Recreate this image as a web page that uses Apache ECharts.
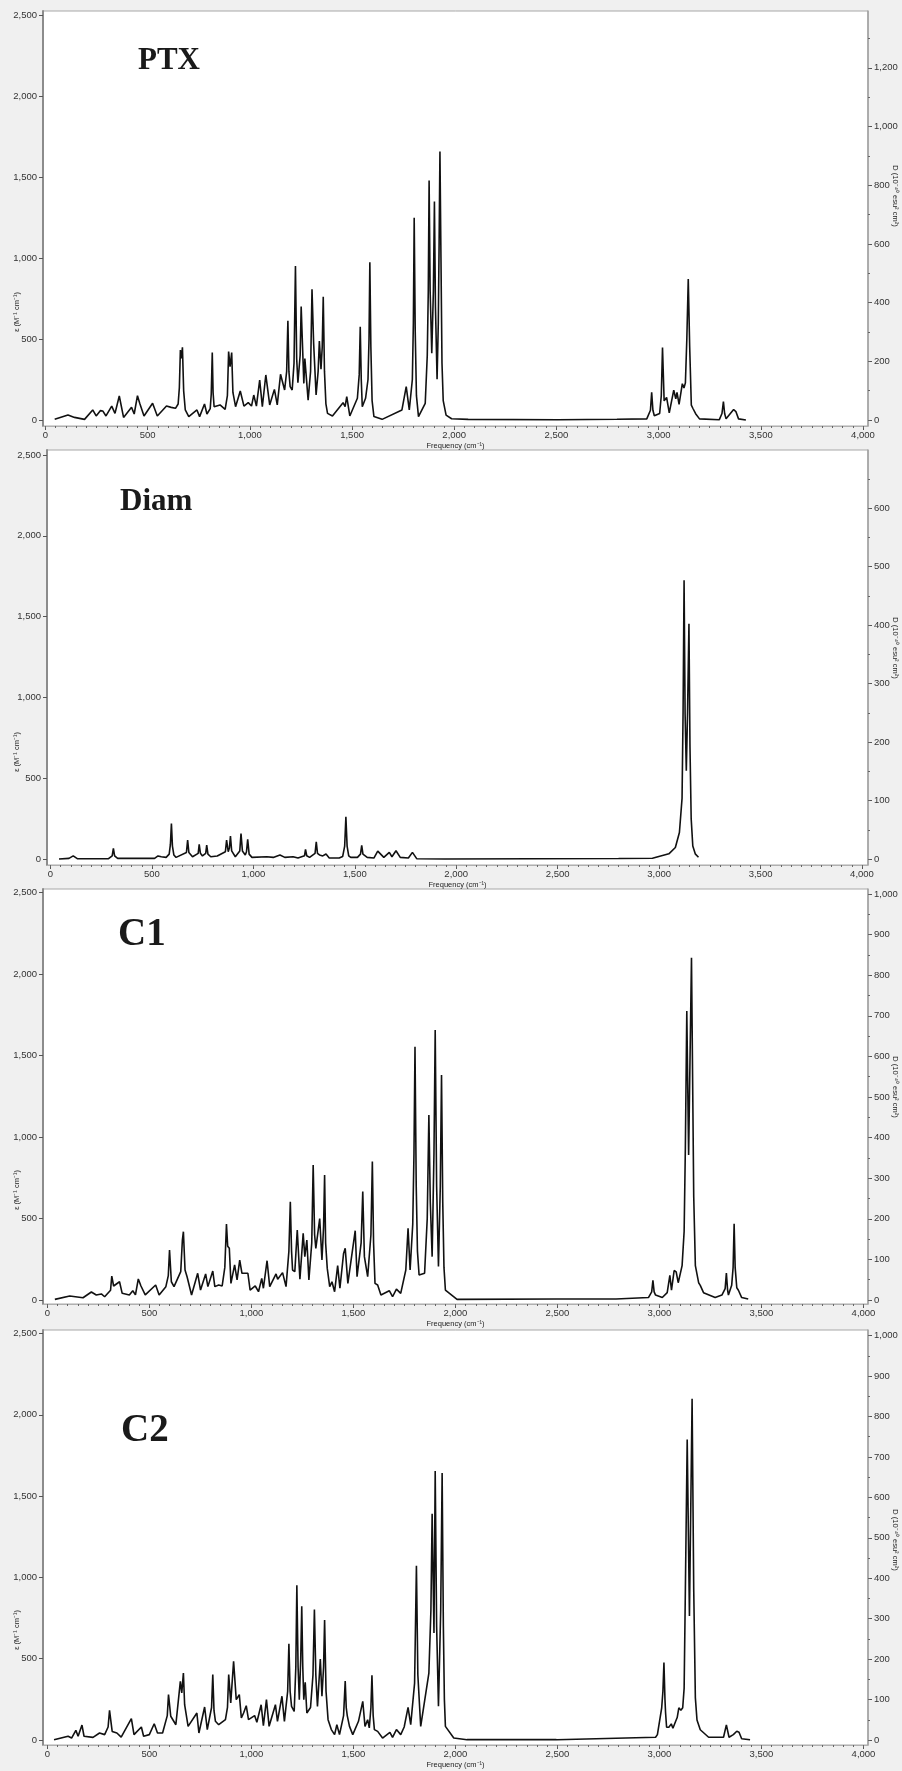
<!DOCTYPE html>
<html>
<head>
<meta charset="utf-8">
<script src="https://cdn.jsdelivr.net/npm/echarts@6/dist/echarts.min.js"></script>
<style>
html,body{margin:0;padding:0;background:#f0f0f0;}
#main{width:902px;height:1771px;}
</style>
</head>
<body>
<div id="main"></div>
<script>
// spectra: [frequency cm-1, epsilon]
var ptxSpectrum = [[45,4],[110,31],[142,16],[191,4],[231,62],[248,25],[269,58],[280,56],[296,25],[324,86],[340,41],[361,148],[382,16],[421,78],[434,37],[450,150],[461,103],[482,25],[524,103],[547,25],[592,86],[615,78],[636,72],[649,99],[655,200],[660,432],[665,380],[670,449],[676,180],[684,62],[701,21],[741,62],[754,21],[778,99],[790,37],[806,70],[811,160],[816,416],[820,170],[825,82],[854,93],[879,66],[890,150],[896,422],[903,329],[911,416],[917,170],[930,82],[953,179],[971,86],[992,107],[1008,86],[1019,154],[1032,86],[1048,247],[1061,82],[1078,278],[1097,93],[1120,189],[1134,93],[1150,282],[1170,185],[1180,300],[1186,613],[1191,300],[1197,206],[1207,185],[1216,350],[1223,951],[1229,380],[1235,230],[1246,400],[1251,700],[1256,515],[1264,226],[1269,379],[1285,123],[1297,300],[1304,807],[1312,473],[1324,154],[1334,300],[1340,488],[1348,313],[1354,450],[1359,761],[1365,300],[1372,100],[1380,41],[1404,25],[1456,107],[1466,82],[1474,144],[1489,25],[1526,134],[1535,280],[1540,576],[1545,250],[1550,82],[1566,134],[1578,250],[1583,500],[1587,973],[1592,450],[1598,120],[1607,21],[1647,4],[1744,62],[1765,206],[1780,62],[1795,250],[1800,600],[1804,1249],[1809,550],[1815,150],[1825,21],[1858,103],[1868,400],[1873,800],[1877,1478],[1882,800],[1890,412],[1898,800],[1903,1348],[1908,700],[1916,251],[1922,600],[1926,1100],[1930,1657],[1935,1000],[1940,350],[1946,120],[1960,30],[1987,8],[2068,4],[2505,2],[2796,5],[2942,7],[2960,60],[2966,171],[2972,60],[2979,26],[3005,40],[3013,150],[3019,448],[3027,118],[3039,139],[3052,44],[3074,184],[3084,131],[3090,171],[3100,97],[3116,224],[3124,197],[3131,229],[3138,500],[3145,870],[3152,450],[3160,92],[3168,71],[3181,39],[3200,7],[3297,2],[3310,40],[3317,113],[3323,40],[3330,7],[3367,65],[3378,52],[3391,7],[3427,0]];
var diamSpectrum = [[42,0],[91,4],[112,19],[132,2],[286,2],[304,20],[310,66],[316,20],[331,4],[513,4],[530,19],[538,10],[546,14],[570,10],[585,30],[591,90],[596,220],[601,80],[608,25],[619,10],[670,40],[676,117],[682,40],[700,14],[728,35],[733,91],[739,35],[749,19],[765,35],[770,86],[776,30],[790,14],[822,19],[862,45],[868,117],[876,45],[882,70],[887,142],[893,50],[911,14],[933,50],[939,158],[946,50],[960,25],[966,45],[972,121],[979,30],[993,10],[1066,14],[1098,10],[1131,25],[1155,10],[1196,14],[1220,6],[1252,20],[1257,60],[1263,20],[1277,10],[1304,35],[1310,107],[1316,35],[1326,25],[1342,19],[1358,31],[1374,6],[1423,6],[1440,15],[1450,80],[1456,261],[1462,80],[1470,20],[1480,10],[1513,10],[1528,30],[1534,84],[1540,30],[1561,10],[1594,6],[1613,49],[1643,10],[1670,41],[1683,14],[1703,51],[1724,10],[1764,6],[1784,41],[1805,2],[1943,0],[2800,3],[2967,5],[3048,32],[3080,71],[3100,164],[3113,375],[3118,900],[3123,1725],[3128,900],[3134,546],[3140,900],[3147,1456],[3152,700],[3158,250],[3166,80],[3178,32],[3194,11]];
var c1Spectrum = [[37,4],[110,25],[175,14],[216,49],[224,57],[240,31],[265,37],[281,20],[310,60],[316,147],[325,86],[354,112],[367,41],[402,31],[419,57],[432,31],[446,129],[459,86],[480,31],[531,92],[548,31],[581,82],[593,150],[599,307],[608,112],[621,82],[654,174],[662,368],[667,419],[675,184],[685,143],[707,31],[737,164],[751,61],[776,160],[787,82],[811,178],[821,82],[840,92],[857,86],[870,200],[878,466],[884,330],[892,317],[900,102],[918,215],[930,123],[943,245],[954,164],[983,164],[994,61],[1019,86],[1035,51],[1051,133],[1059,72],[1077,241],[1090,82],[1121,160],[1129,127],[1153,168],[1170,82],[1184,300],[1191,603],[1197,300],[1202,184],[1213,174],[1225,429],[1238,127],[1254,409],[1262,266],[1272,368],[1282,123],[1296,350],[1303,828],[1310,400],[1316,317],[1335,499],[1346,245],[1354,450],[1359,767],[1364,350],[1372,194],[1384,82],[1395,112],[1408,51],[1423,211],[1434,72],[1452,286],[1460,317],[1473,102],[1509,425],[1518,143],[1538,350],[1546,665],[1554,266],[1562,256],[1570,143],[1586,400],[1593,849],[1599,350],[1606,102],[1619,92],[1635,31],[1676,57],[1692,20],[1711,67],[1732,41],[1757,184],[1768,440],[1778,184],[1791,466],[1797,900],[1802,1554],[1808,700],[1814,300],[1822,153],[1849,164],[1862,500],[1870,1135],[1877,600],[1886,266],[1895,900],[1901,1656],[1908,700],[1917,205],[1926,700],[1932,1380],[1938,600],[1944,200],[1951,61],[2008,4],[2495,6],[2787,6],[2946,15],[2962,50],[2968,121],[2974,50],[2981,30],[3014,15],[3038,45],[3051,151],[3059,60],[3072,181],[3082,172],[3092,106],[3101,97],[3111,211],[3121,422],[3127,935],[3134,1773],[3143,890],[3157,2100],[3168,633],[3176,211],[3192,106],[3200,90],[3216,45],[3273,15],[3306,30],[3322,70],[3328,166],[3334,60],[3338,30],[3354,90],[3361,200],[3366,467],[3371,200],[3379,75],[3387,60],[3403,15],[3435,6]];
var c2Spectrum = [[33,2],[102,23],[119,12],[140,59],[151,23],[170,92],[180,23],[224,16],[256,43],[281,33],[298,80],[305,182],[318,53],[341,43],[362,18],[412,131],[425,33],[461,80],[472,23],[500,33],[524,100],[540,43],[565,43],[588,150],[594,279],[605,146],[630,94],[652,361],[659,289],[667,412],[673,217],[678,217],[690,84],[733,166],[743,43],[771,203],[784,64],[805,200],[811,402],[817,180],[824,115],[840,94],[873,125],[883,200],[889,402],[899,228],[913,484],[926,248],[941,279],[951,135],[962,166],[975,211],[986,125],[1016,150],[1027,109],[1048,217],[1059,88],[1074,248],[1087,84],[1118,217],[1128,115],[1150,269],[1162,115],[1178,300],[1184,592],[1190,300],[1197,207],[1210,176],[1218,450],[1223,951],[1229,450],[1235,248],[1242,500],[1247,822],[1252,450],[1257,248],[1264,355],[1272,166],[1290,200],[1302,400],[1309,802],[1316,400],[1324,207],[1338,498],[1346,269],[1354,450],[1359,738],[1366,300],[1376,125],[1392,64],[1408,33],[1419,94],[1432,33],[1452,150],[1460,363],[1465,200],[1470,150],[1481,84],[1497,33],[1525,115],[1546,238],[1557,84],[1570,125],[1578,74],[1586,200],[1591,398],[1597,150],[1603,64],[1619,53],[1643,12],[1679,47],[1692,16],[1711,64],[1732,33],[1749,80],[1768,201],[1781,94],[1800,350],[1809,1072],[1816,400],[1830,84],[1870,412],[1880,800],[1886,1392],[1895,658],[1901,1654],[1908,700],[1917,207],[1928,800],[1935,1642],[1941,700],[1946,250],[1951,84],[1992,12],[2057,2],[2495,2],[2981,17],[2990,33],[3011,198],[3017,300],[3022,476],[3027,250],[3030,168],[3035,78],[3046,78],[3058,99],[3066,72],[3079,114],[3087,138],[3095,198],[3105,183],[3114,198],[3121,319],[3127,922],[3136,1848],[3147,762],[3160,2099],[3168,922],[3176,259],[3184,123],[3200,63],[3241,17],[3314,17],[3328,93],[3341,17],[3362,33],[3379,54],[3390,48],[3403,8],[3444,2]];

var panelNames = ['PTX', 'Diam', 'C1', 'C2'];
var spectra = [ptxSpectrum, diamSpectrum, c1Spectrum, c2Spectrum];

// tick labels
var freqTicks = [0, 500, 1000, 1500, 2000, 2500, 3000, 3500, 4000];
var epsTicks = [0, 500, 1000, 1500, 2000, 2500];
var dTicks = [
    [0, 200, 400, 600, 800, 1000, 1200],
    [0, 100, 200, 300, 400, 500, 600],
    [0, 100, 200, 300, 400, 500, 600, 700, 800, 900, 1000],
    [0, 100, 200, 300, 400, 500, 600, 700, 800, 900, 1000]
];
var dMinorStep = [100, 50, 50, 50];

// pixel layout of each panel
var layout = [
    {top: 11,   axisY: 426,  zeroY: 420,  left: 43, right: 868, x0: 45.5, x4000: 863,   epsPx: 0.162,  dPx: 0.2935, tx: 138, ty: 60.5, fs: 31, epsY: 312,  dY: 196},
    {top: 450,  axisY: 865,  zeroY: 859,  left: 47, right: 868, x0: 50.5, x4000: 862,   epsPx: 0.1616, dPx: 0.585,  tx: 120, ty: 502,  fs: 31, epsY: 752,  dY: 648},
    {top: 889,  axisY: 1304, zeroY: 1300, left: 43, right: 868, x0: 47.3, x4000: 863.5, epsPx: 0.163,  dPx: 0.406,  tx: 118, ty: 935,  fs: 39, epsY: 1190, dY: 1087},
    {top: 1330, axisY: 1745, zeroY: 1740, left: 43, right: 868, x0: 47.3, x4000: 863.5, epsPx: 0.1626, dPx: 0.4044, tx: 121, ty: 1431, fs: 39, epsY: 1630, dY: 1540}
];

function fmt(v) { return v.toLocaleString('en-US'); }
function steps(from, to, step) {
    var out = [];
    for (var v = from; v <= to; v += step) out.push(v);
    return out;
}

var labelFont = {fontFamily: 'Liberation Sans', fontSize: 9.5, color: '#333'};
var grids = [], xAxes = [], yAxes = [], series = [], graphics = [];

layout.forEach(function (L, i) {
    var xpx = (L.x4000 - L.x0) / 4000;
    var xmin = -(L.x0 - L.left) / xpx;
    var xmax = 4000 + (L.right - L.x4000) / xpx;
    var below = L.axisY - L.zeroY, above = L.zeroY - L.top;
    var dMin = -below / L.dPx, dMax = above / L.dPx;
    var rect = {left: L.left, top: L.top, width: L.right - L.left, height: L.axisY - L.top};

    // main grid (white plot) and an overlaid one that only carries the minor ticks
    var g = grids.length;
    grids.push(Object.assign({show: true, backgroundColor: '#fff', borderColor: '#a8a8a8', borderWidth: 1}, rect));
    grids.push(Object.assign({show: false}, rect));

    var xi = xAxes.length;
    xAxes.push({
        gridIndex: g, type: 'value', min: xmin, max: xmax, position: 'bottom',
        axisLine: {show: true, onZero: false, lineStyle: {color: '#b0b0b0', width: 1}},
        axisTick: {show: true, customValues: freqTicks, length: 4, lineStyle: {color: '#555'}},
        axisLabel: Object.assign({customValues: freqTicks, formatter: fmt, margin: 4}, labelFont),
        splitLine: {show: false},
        name: 'Frequency (cm\u207B\u00B9)', nameLocation: 'middle', nameGap: 16,
        nameTextStyle: {fontFamily: 'Liberation Sans', fontSize: 7.5, color: '#222'}
    });
    xAxes.push({
        gridIndex: g + 1, type: 'value', min: xmin, max: xmax, position: 'bottom',
        axisLine: {show: false, onZero: false},
        axisTick: {show: true, customValues: steps(0, 4000, 50), length: 2, lineStyle: {color: '#666'}},
        axisLabel: {show: false}, splitLine: {show: false}
    });

    var yi = yAxes.length;
    yAxes.push({
        gridIndex: g, type: 'value', position: 'left',
        min: -below / L.epsPx, max: above / L.epsPx,
        axisLine: {show: true, onZero: false, lineStyle: {color: '#8c8c8c', width: 2}},
        axisTick: {show: true, customValues: epsTicks, length: 4, lineStyle: {color: '#555'}},
        axisLabel: Object.assign({customValues: epsTicks, formatter: fmt, margin: 6}, labelFont),
        splitLine: {show: false}
    });
    yAxes.push({
        gridIndex: g, type: 'value', position: 'right', min: dMin, max: dMax,
        axisLine: {show: true, onZero: false, lineStyle: {color: '#a0a0a0', width: 1.5}},
        axisTick: {show: true, customValues: dTicks[i], length: 4, lineStyle: {color: '#555'}},
        axisLabel: Object.assign({customValues: dTicks[i], formatter: fmt, margin: 6}, labelFont),
        splitLine: {show: false}
    });
    yAxes.push({
        gridIndex: g + 1, type: 'value', position: 'right', min: dMin, max: dMax,
        axisLine: {show: false, onZero: false},
        axisTick: {show: true, customValues: steps(0, Math.floor(dMax), dMinorStep[i]), length: 2, lineStyle: {color: '#666'}},
        axisLabel: {show: false}, splitLine: {show: false}
    });

    series.push({
        type: 'line', xAxisIndex: xi, yAxisIndex: yi, data: spectra[i],
        showSymbol: false, silent: true, animation: false,
        lineStyle: {color: '#111', width: 1.6}
    });

    graphics.push({
        type: 'text', x: L.tx, y: L.ty,
        style: {text: panelNames[i], fontFamily: 'Liberation Serif', fontWeight: 'bold', fontSize: L.fs,
                fill: '#1a1a1a', align: 'left', verticalAlign: 'middle'}
    });
    graphics.push({
        type: 'text', x: 17, y: L.epsY, rotation: Math.PI / 2,
        style: {text: '\u03B5 (M\u207B\u00B9 cm\u207B\u00B9)', fontFamily: 'Liberation Sans', fontSize: 7.5,
                fill: '#222', align: 'center', verticalAlign: 'middle'}
    });
    graphics.push({
        type: 'text', x: 895, y: L.dY, rotation: -Math.PI / 2,
        style: {text: 'D (10\u207B\u2074\u2070 esu\u00B2 cm\u00B2)', fontFamily: 'Liberation Sans', fontSize: 7.5,
                fill: '#222', align: 'center', verticalAlign: 'middle'}
    });
});

var myChart = echarts.init(document.getElementById('main'));
myChart.setOption({
    backgroundColor: '#f0f0f0',
    animation: false,
    grid: grids,
    xAxis: xAxes,
    yAxis: yAxes,
    series: series,
    graphic: graphics
});
</script>
</body>
</html>
